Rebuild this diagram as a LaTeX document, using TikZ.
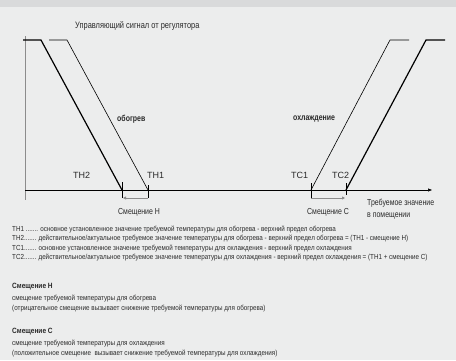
\documentclass[tikz,border=0pt]{standalone}
\usepackage{fontspec}
\setmainfont{Liberation Sans}
\newfontfamily\narrowfont[FakeStretch=0.8]{Liberation Sans}
\newfontfamily\legendfont[FakeStretch=0.86]{Liberation Sans}
\usetikzlibrary{arrows.meta}
\definecolor{panelgray}{HTML}{ECEDED}
\definecolor{bandgray}{HTML}{D9DADB}
\definecolor{axisgray}{HTML}{8C8C8C}
\definecolor{textgray}{HTML}{2A2A2A}

\begin{document}
\begin{tikzpicture}[x=1pt, y=-1pt,
    every node/.style={inner sep=0pt, text=textgray},
    title/.style={font=\narrowfont\fontsize{9.3}{10}\selectfont},
    mode/.style={font=\narrowfont\bfseries\fontsize{8.7}{10}\selectfont},
    tlabel/.style={font=\fontsize{9}{10}\selectfont},
    caption/.style={font=\narrowfont\fontsize{8.7}{11.5}\selectfont},
    legend/.style={font=\legendfont\fontsize{7.3}{8}\selectfont, anchor=west},
    heading/.style={font=\legendfont\bfseries\fontsize{7.6}{8}\selectfont, anchor=west},
    thick curve/.style={line width=1.2pt},
    thin curve/.style={line width=0.6pt}
]
    % background
    \fill[panelgray] (0, 0) rectangle (456, 360);
    \fill[bandgray] (0, 0) rectangle (456, 7);

    % axes
    \coordinate (O) at (25, 190);
    \draw[axisgray, line width=0.9pt] (25, 36) -- (25, 200);
    \draw[line width=0.6pt, -{Triangle[length=4pt, width=3pt]}] (O) -- (432, 190);

    % heating
    \coordinate (TH2) at (122, 190);
    \coordinate (TH1) at (148, 190);
    \draw[thick curve] (23, 40) -- (41, 40) -- (TH2);
    \draw[thin curve] (49, 40) -- (67, 40) -- (TH1);
    % cooling
    \coordinate (TC1) at (311, 190);
    \coordinate (TC2) at (346, 190);
    \draw[thin curve] (TC1) -- (390, 40) -- (409, 40);
    \draw[thick curve] (TC2) -- (426, 40) -- (445, 40);

    % offsets
    \draw[line width=0.6pt] (122, 182) -- (122, 198);
    \draw[line width=0.6pt] (148, 185) -- (148, 198);
    \draw[axisgray, line width=0.9pt, -{Triangle[length=3pt, width=3pt]}] (148, 198) -- (123, 198);
    \draw[line width=0.6pt] (311, 183) -- (311, 198);
    \draw[line width=0.6pt] (346, 183) -- (346, 195);
    \draw[axisgray, line width=0.9pt, -{Triangle[length=3pt, width=3pt]}] (311, 198) -- (345, 198);

    % labels
    \node[title, anchor=west] (signal) at (75, 26) {Управляющий сигнал от регулятора};
    \node[mode, anchor=west] (heat) at (117, 119) {обогрев};
    \node[mode, anchor=west] (cool) at (293, 119) {охлаждение};
    \node[tlabel, anchor=west] (lTH2) at (73, 175) {TH2};
    \node[tlabel, anchor=west] (lTH1) at (147, 175) {TH1};
    \node[tlabel, anchor=west] (lTC1) at (291, 175) {TC1};
    \node[tlabel, anchor=west] (lTC2) at (332, 175) {TC2};
    \node[caption, anchor=west] (offH) at (118, 212) {Смещение H};
    \node[caption, anchor=west] (offC) at (307, 212) {Смещение C};
    \node[caption, anchor=west, align=left] (room) at (367, 209)
        {Требуемое значение\\в помещении};

    % legend
    \node[legend] (leg1) at (12, 230) {TH1 ....... основное установленное значение требуемой температуры для обогрева - верхний предел обогрева};
    \node[legend] (leg2) at (12, 239) {TH2....... действительное/актуальное требуемое значение температуры для обогрева - верхний предел обогрева = (TH1 - смещение H)};
    \node[legend] (leg3) at (12, 249) {TC1....... основное установленное значение требуемой температуры для охлаждения - верхний предел охлаждения};
    \node[legend] (leg4) at (12, 258) {TC2....... действительное/актуальное требуемое значение температуры для охлаждения - верхний предел охлаждения = (TH1 + смещение C)};

    \node[heading] (headH) at (12, 287) {Смещение H};
    \node[legend] (txtH1) at (12, 299) {смещение требуемой температуры для обогрева};
    \node[legend] (txtH2) at (12, 309) {(отрицательное смещение вызывает снижение требуемой температуры для обогрева)};
    \node[heading] (headC) at (12, 332) {Смещение C};
    \node[legend] (txtC1) at (12, 344) {смещение требуемой температуры для охлаждения};
    \node[legend] (txtC2) at (12, 354) {(положительное смещение \ вызывает снижение требуемой температуры для охлаждения)};
\end{tikzpicture}
\end{document}
